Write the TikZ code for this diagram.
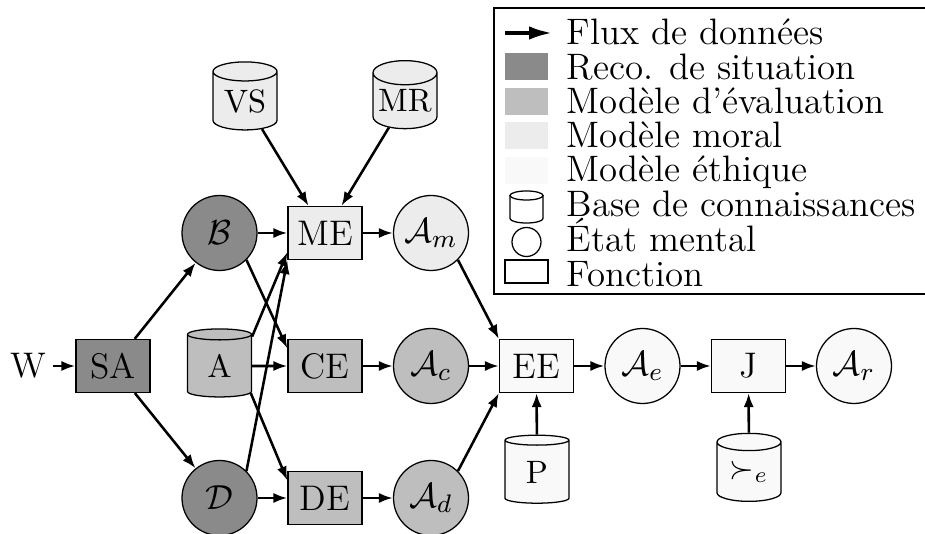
\documentclass[tikz,border=0pt]{standalone}
\usetikzlibrary{shapes.geometric,arrows.meta}
\definecolor{reco}{gray}{0.54}
\definecolor{evalc}{gray}{0.745}
\definecolor{moral}{gray}{0.925}
\definecolor{ethic}{gray}{0.975}
\begin{document}
\begin{tikzpicture}[x=0.315pt,y=-0.315pt,
  mainfont/.style={font=\fontsize{11.2}{13.5}\selectfont},
  fn/.style={draw, line width=0.4pt, rectangle, minimum width=74*0.315pt, minimum height=53*0.315pt, inner sep=0pt, mainfont},
  ms/.style={draw, line width=0.4pt, circle, minimum size=75*0.315pt, inner sep=0pt, mainfont},
  kb/.style={draw, line width=0.4pt, cylinder, shape border rotate=90, aspect=0.45, minimum width=64*0.315pt, minimum height=68*0.315pt, inner sep=0pt, font=\fontsize{10.2}{12}\selectfont},
  flow/.style={-{Latex[length=4.4pt,width=3.2pt]}, line width=0.8pt},
  lg/.style={anchor=base west, inner sep=0pt, font=\fontsize{11.6}{14}\selectfont},
  icon/.style={draw, line width=0.4pt, fill=white}
]
\useasboundingbox (0,0) rectangle (925,534);

% main nodes
\node[mainfont, inner sep=2pt] (W) at (28,366) {W};
\node[fn, fill=reco] (SA) at (113,366) {SA};
\node[ms, fill=reco] (B) at (219.5,233) {$\mathcal{B}$};
\node[kb, fill=evalc] (A) at (219.5,366) {A};
\node[ms, fill=reco] (D) at (219.5,498) {$\mathcal{D}$};
\node[fn, fill=moral] (ME) at (325,233) {ME};
\node[fn, fill=evalc] (CE) at (325,366) {CE};
\node[fn, fill=evalc] (DE) at (325,498) {DE};
\node[kb, fill=moral] (VS) at (245,101) {VS};
\node[kb, fill=moral] (MR) at (405,101) {MR};
\node[ms, fill=moral] (Am) at (431,233) {$\mathcal{A}_m$};
\node[ms, fill=evalc] (Ac) at (431,366) {$\mathcal{A}_c$};
\node[ms, fill=evalc] (Ad) at (431,498) {$\mathcal{A}_d$};
\node[fn, fill=ethic] (EE) at (536.5,366) {EE};
\node[kb, fill=ethic] (P) at (537,472) {P};
\node[ms, fill=ethic] (Ae) at (642.5,366) {$\mathcal{A}_e$};
\node[fn, fill=ethic] (J) at (748.5,366) {J};
\node[kb, fill=ethic] (Pe) at (749,472) {$\succ_e$};
\node[ms, fill=ethic] (Ar) at (854,366) {$\mathcal{A}_r$};

% connectors
\draw[flow] (W) -- (SA);
\draw[flow] (SA) -- (B);
\draw[flow] (SA) -- (D);
\draw[flow] (B) -- (ME);
\draw[flow] (B.south east) -- (CE.155);
\draw[flow] (A) -- (CE);
\draw[flow] (A.42) -- (ME.207);
\draw[flow] (A.-41) -- (DE.155);
\draw[flow] (D.north east) -- (ME.south west);
\draw[flow] (D) -- (DE);
\draw[flow] (VS) -- (ME);
\draw[flow] (MR) -- (ME);
\draw[flow] (ME) -- (Am);
\draw[flow] (CE) -- (Ac);
\draw[flow] (DE) -- (Ad);
\draw[flow] (Am.south east) -- (EE.north west);
\draw[flow] (Ac) -- (EE);
\draw[flow] (Ad.north east) -- (EE.south west);
\draw[flow] (EE) -- (Ae);
\draw[flow] (Ae) -- (J);
\draw[flow] (J) -- (Ar);
\draw[flow] (P) -- (EE);
\draw[flow] (Pe) -- (J);

% legend
\draw[line width=0.4pt] (494,8) rectangle (935,294);
\coordinate (la) at (505,33);
\coordinate (lb) at (553,33);
\draw[line width=1.3pt,-{Latex[length=7.5pt,width=4.2pt]}] (la) -- (lb);
\fill[reco] (505,53) rectangle (548,80);
\fill[evalc] (505,88) rectangle (548,115);
\fill[moral] (505,122) rectangle (548,149);
\fill[ethic] (505,157) rectangle (548,184);
\draw[icon] (510,195.5) -- (510,218.5) arc[start angle=180, end angle=360, x radius=5.2pt, y radius=1.42pt] -- (543,195.5);
\draw[icon] (526.5,195.5) ellipse [x radius=5.2pt, y radius=1.42pt];
\node[draw, line width=0.4pt, circle, minimum size=29*0.315pt, inner sep=0pt] (lms) at (526.5,242) {};
\node[draw, line width=0.4pt, rectangle, minimum width=43*0.315pt, minimum height=23*0.315pt, inner sep=0pt] (lfn) at (526.5,271.5) {};
\node[lg] (t1) at (566,45) {Flux de données};
\node[lg] (t2) at (566,80) {Reco. de situation};
\node[lg] (t3) at (566,114) {Modèle d’évaluation};
\node[lg] (t4) at (566,148) {Modèle moral};
\node[lg] (t5) at (566,182) {Modèle éthique};
\node[lg] (t6) at (566,217) {Base de connaissances};
\node[lg] (t7) at (566,252) {État mental};
\node[lg] (t8) at (566,287) {Fonction};
\end{tikzpicture}
\end{document}
